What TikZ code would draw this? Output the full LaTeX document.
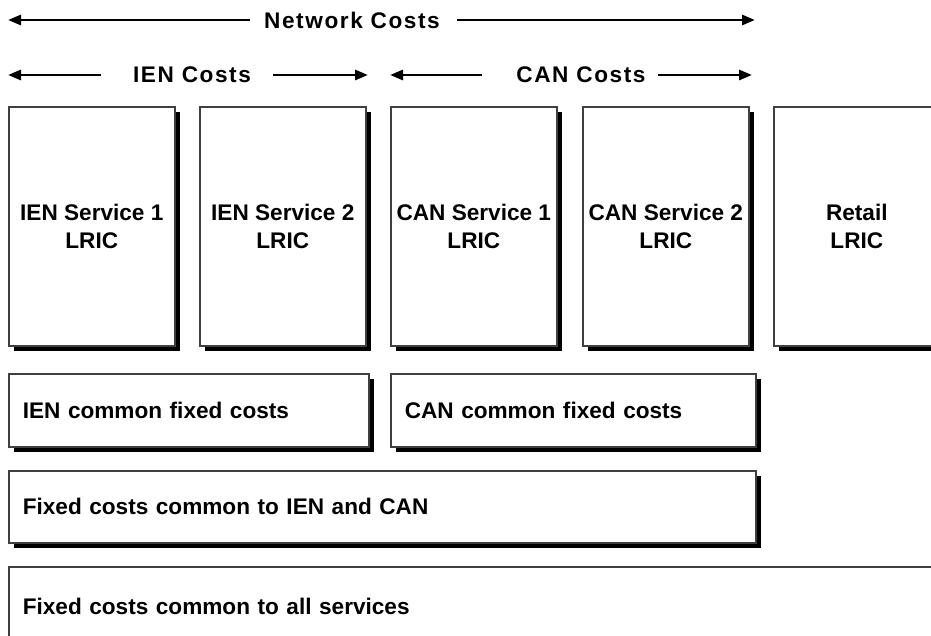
\documentclass[tikz,border=0pt]{standalone}
\usepackage{fontspec}
\setmainfont{Liberation Sans}
\usetikzlibrary{shadows,arrows.meta}

\tikzset{
  costbox/.style={draw=black!75, line width=1.6pt, fill=white,
    drop shadow={shadow xshift=5pt, shadow yshift=-5pt, fill=black, opacity=1}},
  svcbox/.style={costbox, anchor=north west, minimum width=166pt, minimum height=239pt,
    align=center, inner sep=0pt, font=\fontsize{22.6}{28}\selectfont\bfseries},
  widebox/.style={costbox, anchor=north west, align=left, inner xsep=14pt,
    font=\fontsize{22.6}{28}\selectfont\bfseries},
  hdr/.style={inner sep=0pt, font=\fontsize{22.6}{28}\selectfont\bfseries\addfontfeature{LetterSpace=7}},
  costarrow/.style={line width=2.8pt, -{Triangle[length=13pt,width=10pt]}}
}

\begin{document}
\begin{tikzpicture}[x=1pt,y=-1pt]
  \useasboundingbox (0,0) rectangle (931,636);

  % headers over the service columns
  \node[hdr] (netcost) at (352,20) {Network Costs};
  \coordinate (netL) at (8,20);
  \coordinate (netR) at (755,20);
  \draw[costarrow] ([xshift=-14pt]netcost.west) -- (netL);
  \draw[costarrow] ([xshift=17pt]netcost.east) -- (netR);

  \node[hdr] (iencost) at (192,75) {IEN Costs};
  \coordinate (ienL) at (8,75);
  \coordinate (ienR) at (368,75);
  \draw[costarrow] ([xshift=-32pt]iencost.west) -- (ienL);
  \draw[costarrow] ([xshift=22pt]iencost.east) -- (ienR);

  \node[hdr] (cancost) at (581,75) {CAN Costs};
  \coordinate (canL) at (390,75);
  \coordinate (canR) at (752,75);
  \draw[costarrow] ([xshift=-34pt]cancost.west) -- (canL);
  \draw[costarrow] ([xshift=12pt]cancost.east) -- (canR);

  % incremental costs per service
  \node[svcbox] (ien1) at (8,106) {IEN Service 1\\LRIC};
  \node[svcbox] (ien2) at (199,106) {IEN Service 2\\LRIC};
  \node[svcbox] (can1) at (390,106) {CAN Service 1\\LRIC};
  \node[svcbox] (can2) at (582,106) {CAN Service 2\\LRIC};
  \node[svcbox] (retail) at (773,106) {Retail\\LRIC};

  % common costs
  \node[widebox, text width=332pt, minimum height=73pt] (iencom) at (8,373) {IEN common fixed costs};
  \node[widebox, text width=337pt, minimum height=73pt] (cancom) at (390,373) {CAN common fixed costs};
  \node[widebox, text width=719pt, minimum height=72pt] (netcom) at (8,470) {Fixed costs common to IEN and CAN};
  \node[widebox, text width=909pt, minimum height=80pt] (allcom) at (8,566) {Fixed costs common to all services};
\end{tikzpicture}
\end{document}
